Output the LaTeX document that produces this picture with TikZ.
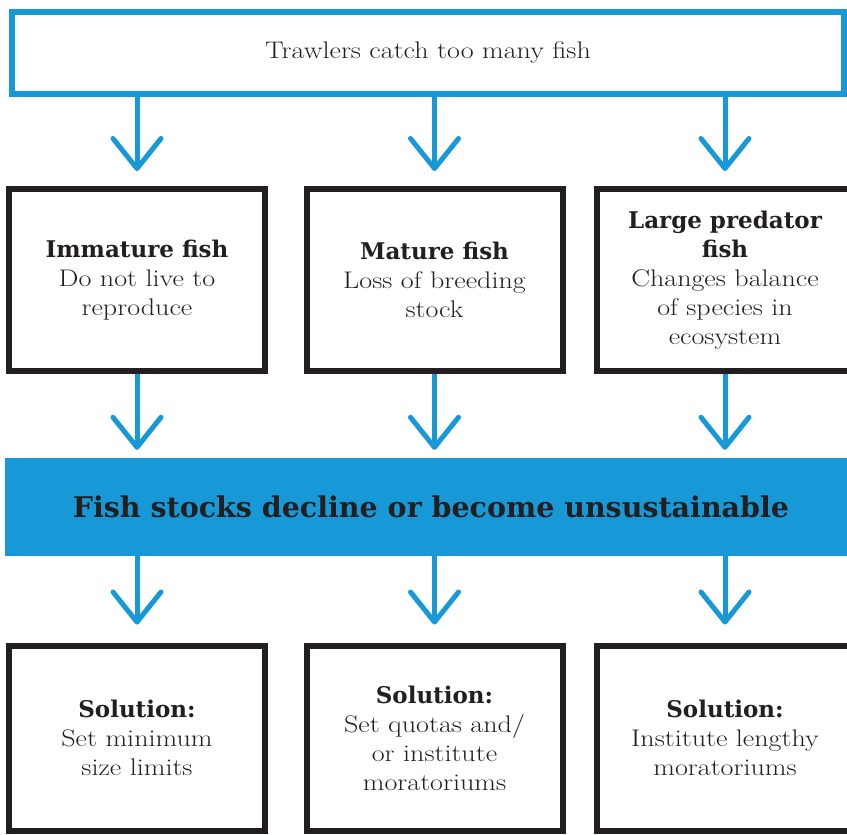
\documentclass[tikz,border=0pt]{standalone}
\usepackage{fontspec}
\setmainfont{Latin Modern Roman}[FakeStretch=1.17]
\newfontfamily\hdfont{DejaVu Serif}
\usetikzlibrary{arrows.meta}
\definecolor{fblue}{RGB}{24,153,215}
\definecolor{ink}{RGB}{35,31,32}
\newcommand\bhead[1]{{\hdfont\bfseries\fontsize{23}{29}\selectfont #1}}
\begin{document}
\begin{tikzpicture}[x=1pt,y=-1pt,
  boxstyle/.style={draw=ink, line width=6pt, fill=white, minimum width=256pt,
    inner sep=0pt, align=center, text=ink, font=\fontsize{24}{29}\selectfont},
  rowone/.style={boxstyle, minimum height=182pt},
  rowtwo/.style={boxstyle, minimum height=185pt},
  topbox/.style={draw=fblue, line width=6pt, fill=white, minimum width=832pt,
    minimum height=82pt, inner sep=0pt, text=ink, font=\fontsize{24}{29}\selectfont},
  band/.style={fill=fblue, minimum width=852pt, minimum height=98pt, inner sep=0pt,
    text=ink, font=\hdfont\bfseries\fontsize{28.5}{30}\selectfont},
  arr/.style={draw=fblue, line width=5pt, -{Straight Barb[length=30pt,width=48pt,round]}}
]
\useasboundingbox (0,0) rectangle (847,835);
\clip (0,0) rectangle (847,835);
\fill[white] (0,0) rectangle (847,835);

\node[topbox] (top) at (428,53) {Trawlers catch too many fish};

\node[rowone] (b1) at (137,280) {\bhead{Immature fish}\\Do not live to\\reproduce};
\node[rowone] (b2) at (434.5,280) {\bhead{Mature fish}\\Loss of breeding\\stock};
\node[rowone] (b3) at (725,280) {\bhead{Large predator}\\\bhead{fish}\\Changes balance\\of species in\\ecosystem};

\node[band] (band) at (431,507) {Fish stocks decline or become unsustainable};

\node[rowtwo] (c1) at (137,738) {\bhead{Solution:}\\Set minimum\\size limits};
\node[rowtwo] (c2) at (434.5,738) {\bhead{Solution:}\\Set quotas and/\\or institute\\moratoriums};
\node[rowtwo] (c3) at (725,738) {\bhead{Solution:}\\Institute lengthy\\moratoriums};

\foreach \b in {b1,b2,b3}{
  \draw[arr, shorten >=15pt] (top.south -| \b.north) -- (\b.north);
  \draw[arr, shorten >=8pt] (\b.south) -- (\b.south |- band.north);
}
\foreach \c in {c1,c2,c3}{
  \draw[arr, shorten >=18pt] (band.south -| \c.north) -- (\c.north);
}
\end{tikzpicture}
\end{document}
